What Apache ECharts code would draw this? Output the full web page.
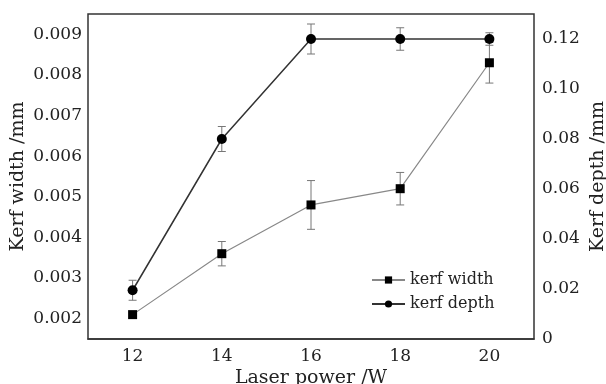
<!DOCTYPE html>
<html lang="en">
<head>
	<meta charset="UTF-8">
	<title>Kerf</title>
	<style>html,body{margin:0;padding:0;background:#fff;}</style>
</head>
<body>
	<div id='main' style="width:606px;height:384px;"></div>
<script type="text/javascript" src="https://cdn.jsdelivr.net/npm/echarts@6/dist/echarts.min.js"></script>
<script type="text/javascript">
var power = ['12', '14', '16', '18', '20'];
var kerfWidth = [0.0021, 0.0036, 0.0048, 0.0052, 0.0083];
var kerfWidthErr = [0, 0.0003, 0.0006, 0.0004, 0.0005];
var kerfDepth = [0.0195, 0.080, 0.120, 0.120, 0.120];
var kerfDepthErr = [0.004, 0.005, 0.006, 0.0045, 0.0025];

var font = 'DejaVu Serif';

// error bars: vertical line with small caps
function errBar(vals, errs, color) {
    return function (params, api) {
        var i = api.value(0);
        var v = vals[i], e = errs[i];
        if (!e) return null;
        var top = api.coord([i, v + e]);
        var bot = api.coord([i, v - e]);
        var w = 4;
        var st = {stroke: color, lineWidth: 1};
        return {
            type: 'group',
            children: [
                {type: 'line', shape: {x1: top[0], y1: top[1], x2: bot[0], y2: bot[1]}, style: st},
                {type: 'line', shape: {x1: top[0] - w, y1: top[1], x2: top[0] + w, y2: top[1]}, style: st},
                {type: 'line', shape: {x1: bot[0] - w, y1: bot[1], x2: bot[0] + w, y2: bot[1]}, style: st}
            ]
        };
    };
}

var axisLine = {lineStyle: {color: '#333', width: 1.5}};
var axisTick = {inside: true, length: 7, lineStyle: {color: '#333', width: 1.2}};

var option = {
    animation: false,
    grid: {
        left: 88, right: 72, top: 14, bottom: 45,
        outerBoundsMode: 'none',
        show: true, borderColor: '#333', borderWidth: 1.5
    },
    legend: {
        orient: 'vertical',
        left: 366,
        top: 267,
        itemWidth: 33,
        itemHeight: 9,
        itemGap: 8,
        data: ['kerf width', 'kerf depth'],
        textStyle: {fontFamily: font, fontSize: 16, color: '#222'}
    },
    xAxis: {
        type: 'category',
        data: power,
        boundaryGap: true,
        name: 'Laser power /W',
        nameLocation: 'middle',
        nameGap: 30,
        nameMoveOverlap: false,
        nameTextStyle: {fontFamily: font, fontSize: 19, color: '#222'},
        axisLine: axisLine,
        axisTick: {inside: true, length: 7, alignWithLabel: true, lineStyle: {color: '#333', width: 1.2}},
        axisLabel: {fontFamily: font, fontSize: 17, color: '#222', margin: 9},
        splitLine: {show: false}
    },
    yAxis: [
        {
            type: 'value',
            min: 0.0015,
            max: 0.0095,
            splitNumber: 8,
            name: 'Kerf width /mm',
            nameLocation: 'middle',
            nameGap: 60,
            nameMoveOverlap: false,
            nameTextStyle: {fontFamily: font, fontSize: 19, color: '#222'},
            axisLine: axisLine,
            axisTick: axisTick,
            axisLabel: {
                fontFamily: font, fontSize: 17, color: '#222', margin: 6,
                formatter: function (v) {
                    var k = Math.round(v * 1000);
                    if (Math.abs(v * 1000 - k) > 1e-6) return '';
                    return v.toFixed(3);
                }
            },
            splitLine: {show: false}
        },
        {
            type: 'value',
            min: 0,
            max: 0.13,
            interval: 0.02,
            name: 'Kerf depth /mm',
            nameLocation: 'middle',
            nameGap: 55,
            nameRotate: 90,
            nameMoveOverlap: false,
            nameTextStyle: {fontFamily: font, fontSize: 19, color: '#222'},
            axisLine: axisLine,
            axisTick: axisTick,
            axisLabel: {
                fontFamily: font, fontSize: 17, color: '#222', margin: 8,
                formatter: function (v) {
                    if (v === 0) return '0';
                    if (v > 0.125) return '';
                    return v.toFixed(2);
                }
            },
            splitLine: {show: false}
        }
    ],
    series: [
        {
            name: 'kerf width',
            type: 'line',
            yAxisIndex: 0,
            data: kerfWidth,
            symbol: 'rect',
            symbolSize: 9,
            itemStyle: {color: '#000'},
            lineStyle: {color: '#888', width: 1.2},
            z: 3
        },
        {
            name: 'kerf depth',
            type: 'line',
            yAxisIndex: 1,
            data: kerfDepth,
            symbol: 'circle',
            symbolSize: 10,
            itemStyle: {color: '#000'},
            lineStyle: {color: '#333', width: 1.5},
            z: 3
        },
        {
            type: 'custom',
            yAxisIndex: 0,
            renderItem: errBar(kerfWidth, kerfWidthErr, '#777'),
            data: power.map(function (p, i) { return [i, kerfWidth[i]]; }),
            z: 2
        },
        {
            type: 'custom',
            yAxisIndex: 1,
            renderItem: errBar(kerfDepth, kerfDepthErr, '#777'),
            data: power.map(function (p, i) { return [i, kerfDepth[i]]; }),
            z: 2
        }
    ]
};

var myChart = echarts.init(document.getElementById('main'));
myChart.setOption(option);
</script>
</body>
</html>
